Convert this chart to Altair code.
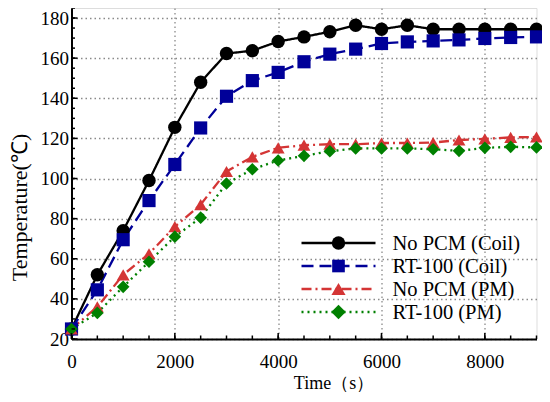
import altair as alt
import pandas as pd

# ---- data ----
time_s = [0, 500, 1000, 1500, 2000, 2500, 3000, 3500, 4000, 4500,
          5000, 5500, 6000, 6500, 7000, 7500, 8000, 8500, 9000]
no_pcm_coil = [25, 52, 74, 99, 125.5, 148, 162.3, 163.7, 168.3, 170.6,
               173.2, 176.4, 174.4, 176.4, 174.4, 174.4, 174.4, 174.4, 174.4]
rt100_coil = [25, 44.5, 69.5, 89, 107, 125.2, 141, 148.8, 152.9, 158.2,
              162, 164.5, 167.3, 168.1, 168.6, 169.1, 169.8, 170.3, 170.6]
no_pcm_pm = [25, 36, 52, 62.5, 76, 87, 103.5, 110.8, 115.3, 116.6,
             117.1, 117.1, 117.7, 117.7, 117.9, 119.2, 119.8, 120.5, 120.7]
rt100_pm = [25, 33, 46, 58.5, 71, 80.5, 97.5, 104.6, 109, 111.3,
            113.6, 115, 115, 115, 114.6, 113.8, 115.3, 115.8, 115.5]

series_names = ["No PCM (Coil)", "RT-100 (Coil)", "No PCM (PM)", "RT-100 (PM)"]
series_values = [no_pcm_coil, rt100_coil, no_pcm_pm, rt100_pm]
series_colors = ["#000000", "#000099", "#d43535", "#008000"]
series_dash = [[1, 0], [12, 6], [10, 4, 2, 4], [2, 4]]
series_shapes = ["circle", "square", "triangle-up", "diamond"]
series_sizes = [180, 160, 200, 210]

x_major = [0, 2000, 4000, 6000, 8000]
x_minor = [500 * i for i in range(19)]
y_major = [20, 40, 60, 80, 100, 120, 140, 160, 180]
y_minor = [20 + 5 * i for i in range(34)]

X_DOMAIN = [0, 9000]
Y_DOMAIN = [20, 185]
W, H = 465, 331
FONT = "Liberation Serif"

rows = []
for name, vals in zip(series_names, series_values):
    for t, v in zip(time_s, vals):
        rows.append({"time": t, "temp": v, "series": name})
df = pd.DataFrame(rows)

xscale = alt.Scale(domain=X_DOMAIN, nice=False, zero=False)
yscale = alt.Scale(domain=Y_DOMAIN, nice=False, zero=False)

x_axis = alt.Axis(values=x_major, format="d", labelPadding=13,
                  title="Time（s）", titleFontSize=18,
                  titleX=262, titleY=44, titleBaseline="middle")
y_axis = alt.Axis(values=y_major, labelPadding=3,
                  title="Temperature(℃)", titleFontSize=22,
                  titleX=-52, titleY=199, titleAngle=270,
                  titleBaseline="middle", titleAlign="center")

color = alt.Color("series:N", scale=alt.Scale(domain=series_names, range=series_colors), legend=None)

lines = alt.Chart(df).mark_line(strokeWidth=2.3).encode(
    x=alt.X("time:Q", scale=xscale, axis=x_axis),
    y=alt.Y("temp:Q", scale=yscale, axis=y_axis),
    color=color,
    strokeDash=alt.StrokeDash("series:N", scale=alt.Scale(domain=series_names, range=series_dash), legend=None),
    detail="series:N",
)
points = alt.Chart(df).mark_point(filled=True, opacity=1, strokeWidth=0).encode(
    x=alt.X("time:Q", scale=xscale, axis=x_axis),
    y=alt.Y("temp:Q", scale=yscale, axis=y_axis),
    color=color,
    shape=alt.Shape("series:N", scale=alt.Scale(domain=series_names, range=series_shapes), legend=None),
    size=alt.Size("series:N", scale=alt.Scale(domain=series_names, range=series_sizes), legend=None),
)

# inward axis ticks (drawn on the shared scales)
def yticks(vals, length):
    return alt.Chart(pd.DataFrame({"temp": vals})).mark_rule(color="black", strokeWidth=1.5).encode(
        y=alt.Y("temp:Q", scale=yscale, axis=y_axis), x=alt.value(0), x2=alt.value(length))

def xticks(vals, length):
    return alt.Chart(pd.DataFrame({"time": vals})).mark_rule(color="black", strokeWidth=1.5).encode(
        x=alt.X("time:Q", scale=xscale, axis=x_axis), y=alt.value(H), y2=alt.value(H - length))

tick_layers = [yticks(y_minor, 3.5), yticks(y_major, 6), xticks(x_minor, 3.5), xticks(x_major, 6)]

# manual legend (one row of data per entry)
leg_layers = []
leg_x1, leg_x2, leg_xm, leg_xt = 230, 304, 267, 321
for i, name in enumerate(series_names):
    yy = 235 + 23 * i
    one = pd.DataFrame({"label": [name]})
    leg_layers.append(alt.Chart(one).mark_rule(color=series_colors[i], strokeWidth=2.3,
                                               strokeDash=series_dash[i]).encode(
        x=alt.value(leg_x1), x2=alt.value(leg_x2), y=alt.value(yy)))
    leg_layers.append(alt.Chart(one).mark_point(filled=True, opacity=1, strokeWidth=0,
                                                shape=series_shapes[i], size=series_sizes[i],
                                                color=series_colors[i]).encode(
        x=alt.value(leg_xm), y=alt.value(yy)))
    leg_layers.append(alt.Chart(one).mark_text(align="left", baseline="middle", font=FONT,
                                               fontSize=20.5, color="black").encode(
        x=alt.value(leg_xt), y=alt.value(yy + 1), text="label:N"))

chart = alt.layer(lines, points, *tick_layers, *leg_layers).properties(
    width=W, height=H,
    autosize=alt.AutoSizeParams(type="none"),
    padding={"left": 63.5, "top": 0, "right": 5, "bottom": 55},
).configure_view(stroke=None).configure(background="white").configure_axis(
    grid=True, gridDash=[1.5, 3], gridColor="#8a8a8a", gridWidth=1.3, ticks=False,
    domainColor="black", domainWidth=2,
    labelFont=FONT, labelFontSize=19, labelColor="black", labelFlush=False,
    titleFont=FONT, titleFontWeight="normal", titleColor="black",
)

chart.save("out.html", embed_options={"renderer": "svg", "actions": False})
